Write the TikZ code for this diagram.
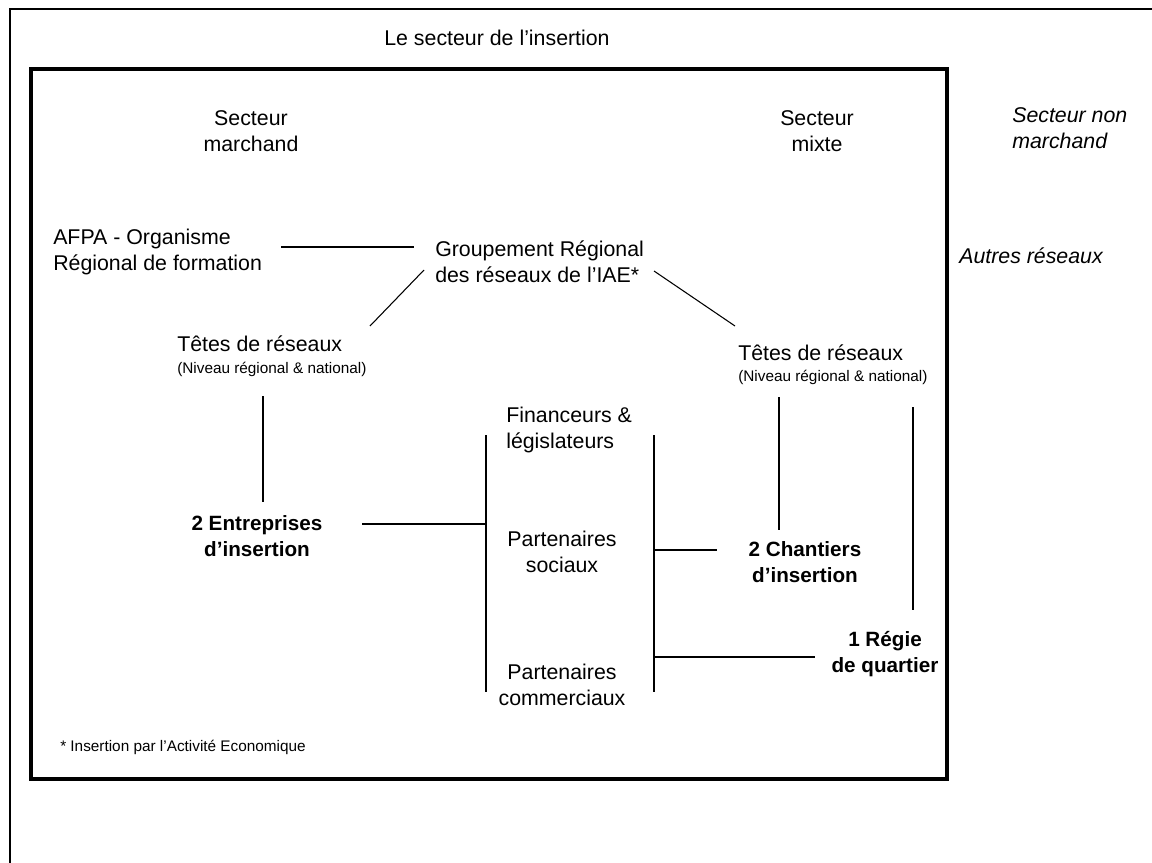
\documentclass[tikz,border=0pt]{standalone}
\usepackage{fontspec}
\setmainfont{Liberation Sans}
\usetikzlibrary{calc}
\begin{document}
\begin{tikzpicture}[x=0.75pt,y=-0.75pt,
  lbl/.style={inner sep=0pt, font=\fontsize{16}{19.5}\selectfont, align=center},
  lblb/.style={inner sep=0pt, font=\fontsize{15.5}{19.5}\selectfont\bfseries, align=center},
  lbli/.style={inner sep=0pt, font=\fontsize{16}{19.5}\selectfont\itshape, align=left},
  small/.style={inner sep=0pt, font=\fontsize{11.5}{14}\selectfont},
  conn/.style={line width=0.8pt},
  frame/.style={line width=1pt},
  box/.style={line width=2.4pt}]
\fill[white] (0,0) rectangle (1152,863);
\useasboundingbox (0,0) rectangle (1152,863);
% frames
\draw[frame] (10,863) -- (10,9) -- (1152,9);
\draw[box] (31,69) rectangle (947,779);
% labels
\node[lbl, anchor=base] (title) at (497,46) {Le secteur de l’insertion};
\node[lbl] (march) at (251,131) {Secteur\\marchand};
\node[lbl] (mixte) at (817,131) {Secteur\\mixte};
\node[lbli, anchor=west] (nonmarch) at (1012,128.5) {Secteur non\\marchand};
\node[lbli, anchor=base west] (autres) at (959,263) {Autres réseaux};
\node[lbl, align=left, anchor=west] (afpa) at (53,252) {AFPA - Organisme\\Régional de formation};
\node[lbl, align=left, anchor=west] (grp) at (435,262) {Groupement Régional\\des réseaux de l’IAE*};
\node[lbl, anchor=base west] (tetesL) at (177,351) {Têtes de réseaux};
\node[small, anchor=base west] (nivL) at (177,373) {(Niveau régional \& national)};
\node[lbl, anchor=base west] (tetesR) at (738,360) {Têtes de réseaux};
\node[small, anchor=base west] (nivR) at (738,381) {(Niveau régional \& national)};
\node[lblb] (entL) at (257,536) {2 Entreprises\\d’insertion};
\node[lbl, align=left, anchor=west] (fin) at (506,430) {Financeurs \&\\législateurs};
\node[lbl] (psoc) at (562,551.5) {Partenaires\\sociaux};
\node[lbl] (pcom) at (562,684.5) {Partenaires\\commerciaux};
\node[lblb] (chant) at (805,562.5) {2 Chantiers\\d’insertion};
\node[lblb] (regie) at (885,654.5) {1 Régie\\de quartier};
\node[small, anchor=base west] (note) at (60,751) {* Insertion par l’Activité Economique};
% bracket coordinates
\coordinate (bl1) at (486,435);
\coordinate (bl2) at (486,692);
\coordinate (br1) at (654,435);
\coordinate (br2) at (654,692);
% connectors
\draw[conn] ($(afpa.west)+(228,-5)$) -- ($(grp.west)+(-21,-15)$);
\draw[conn] ($(grp.west)+(-11,8)$) -- ($(tetesL.base west)+(193,-25)$);
\draw[conn] ($(grp.west)+(219,9)$) -- ($(tetesR.base west)+(-3,-34)$);
\draw[conn] ($(nivL.base west)+(86,23)$) -- ($(entL.center)+(6,-34)$);
\draw[conn] ($(entL.center)+(105,-12)$) -- ($(bl1 |- entL.center)+(0,-12)$);
\draw[conn] (bl1) -- (bl2);
\draw[conn] (br1) -- (br2);
\draw[conn] ($(br1 |- chant.center)+(0,-12.5)$) -- ($(chant.center)+(-88,-12.5)$);
\draw[conn] ($(br1 |- regie.center)+(0,2.5)$) -- ($(regie.center)+(-70,2.5)$);
\draw[conn] ($(nivR.base west)+(41,16)$) -- ($(chant.center)+(-26,-32.5)$);
\draw[conn] ($(nivR.base west)+(175,26)$) -- ($(regie.center)+(28,-44.5)$);
\end{tikzpicture}
\end{document}
